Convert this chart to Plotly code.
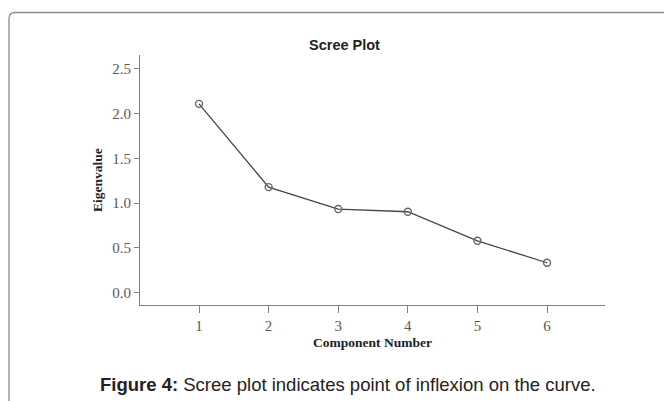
import plotly.graph_objects as go

components = [1, 2, 3, 4, 5, 6]
eigenvalues = [2.11, 1.18, 0.935, 0.905, 0.58, 0.335]
y_ticks = [0.0, 0.5, 1.0, 1.5, 2.0, 2.5]
y_tick_labels = ["0.0", "0.5", "1.0", "1.5", "2.0", "2.5"]

# The page body has an 8px margin, so the figure is drawn 8px in from the window corner.
OFF = 8
W, H = 672 - OFF, 401 - OFF
L, R, T, B = 140 - OFF, 605 - OFF, 55 - OFF, 305 - OFF  # plot area in figure pixels


def px(x):
    return (x - OFF - L) / (R - L)


def py(y):
    return (B - (y - OFF)) / (B - T)


fig = go.Figure()
fig.add_trace(go.Scatter(
    x=components, y=eigenvalues, mode="lines+markers",
    line=dict(color="#454545", width=1.3),
    marker=dict(symbol="circle-open", size=7, color="#666666", line=dict(width=1.4)),
    showlegend=False, hoverinfo="skip",
))

axis_font = dict(family="Liberation Serif, Times New Roman, serif", size=15, color="#5a5a5a")
title_font = dict(family="Liberation Serif, Times New Roman, serif", size=13.5, color="#222222")

fig.update_xaxes(
    range=[0.152, 6.833], tickvals=components, ticktext=[str(c) for c in components],
    showline=True, linecolor="#808080", linewidth=1.2,
    ticks="outside", ticklen=7, tickcolor="#808080", tickwidth=1.2,
    showgrid=False, zeroline=False, tickfont=axis_font,
    title=dict(text="<b>Component Number</b>", font=title_font, standoff=4),
)
fig.update_yaxes(
    range=[-0.137, 2.656], tickvals=y_ticks, ticktext=y_tick_labels,
    showline=True, linecolor="#808080", linewidth=1.2,
    ticks="outside", ticklen=5, tickcolor="#808080", tickwidth=1.2,
    showgrid=False, zeroline=False, tickfont=axis_font,
    title=dict(text="<b>Eigenvalue</b>", font=title_font, standoff=6),
)

# Rounded frame (top and left edges visible), in window pixel coordinates
x0, y0, r = 9, 12.5, 6
path = (f"M {px(x0)},{py(410)} L {px(x0)},{py(y0 + r)} "
        f"Q {px(x0)},{py(y0)} {px(x0 + r)},{py(y0)} L {px(680)},{py(y0)}")
fig.add_shape(type="path", xref="paper", yref="paper", path=path,
              line=dict(color="#8c8c8c", width=1.3))

fig.add_annotation(text="<b>Scree Plot</b>", xref="paper", yref="paper",
                   x=px(344), y=py(45), xanchor="center", yanchor="middle", showarrow=False,
                   font=dict(family="Liberation Sans, Arial, sans-serif", size=14.5, color="#222222"))
fig.add_annotation(text="<b>Figure 4:</b> Scree plot indicates point of inflexion on the curve.",
                   xref="paper", yref="paper", x=px(348), y=py(384),
                   xanchor="center", yanchor="middle", showarrow=False,
                   font=dict(family="Liberation Sans, Arial, sans-serif", size=18.5, color="#222222"))

fig.update_layout(
    width=W, height=H,
    margin=dict(l=L, r=W - R, t=T, b=H - B),
    paper_bgcolor="white", plot_bgcolor="white",
)

fig.write_html("out.html")
